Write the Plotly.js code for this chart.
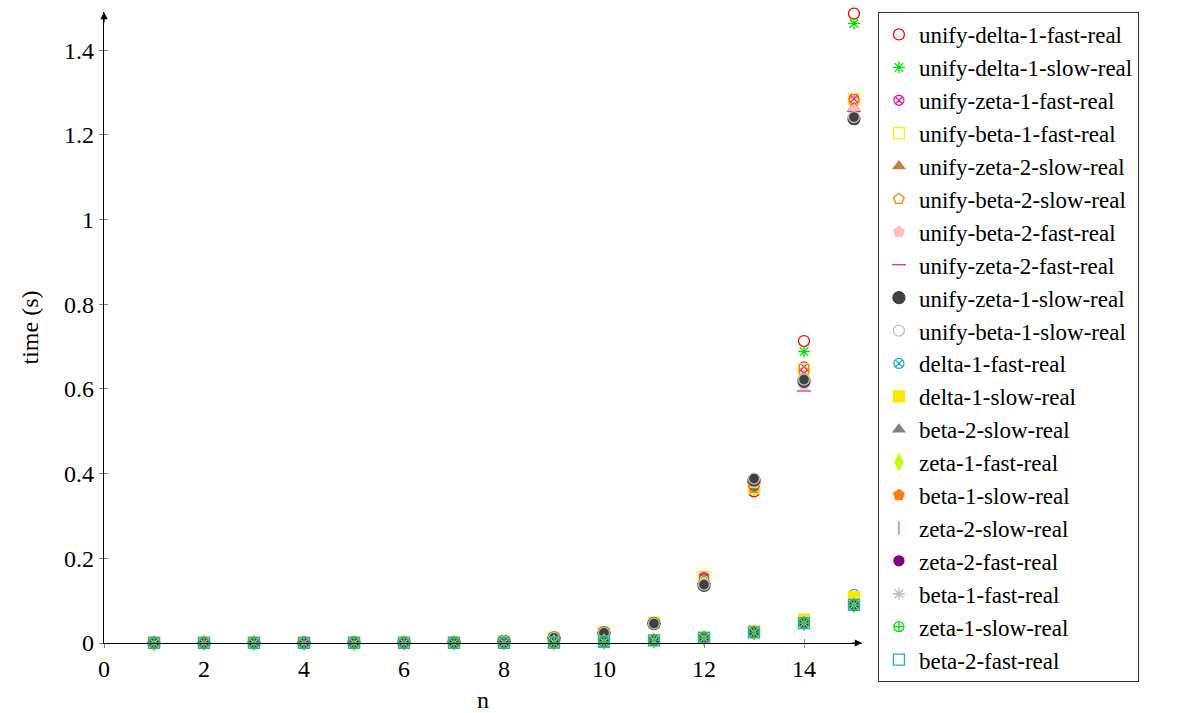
<!DOCTYPE html>
<html>
<head>
<meta charset="utf-8">
<script src="https://cdn.plot.ly/plotly-3.0.1.min.js"></script>
<style>
html, body { margin: 0; padding: 0; background: #fff; }
#chart { width: 1187px; height: 713px; }
</style>
</head>
<body>
<div id="chart"></div>
<script>
// ---- data ----
const nValues = [1, 2, 3, 4, 5, 6, 7, 8, 9, 10, 11, 12, 13, 14, 15];

const unifyDelta1Fast = [0.0002, 0.0003, 0.0004, 0.0005, 0.0007, 0.001, 0.0015, 0.004, 0.011, 0.023, 0.047, 0.150, 0.358, 0.713, 1.486];
const unifyDelta1Slow = [0.0002, 0.0003, 0.0004, 0.0005, 0.0007, 0.001, 0.0015, 0.004, 0.011, 0.023, 0.047, 0.148, 0.362, 0.688, 1.463];
const unifyZeta1Fast  = [0.0002, 0.0003, 0.0004, 0.0005, 0.0007, 0.001, 0.0015, 0.004, 0.011, 0.024, 0.047, 0.155, 0.372, 0.652, 1.285];
const unifyBeta1Fast  = [0.0002, 0.0003, 0.0004, 0.0005, 0.0007, 0.001, 0.0015, 0.004, 0.012, 0.025, 0.048, 0.156, 0.366, 0.646, 1.285];
const unifyZeta2Slow  = [0.0002, 0.0003, 0.0004, 0.0005, 0.0007, 0.001, 0.0015, 0.004, 0.011, 0.023, 0.046, 0.145, 0.375, 0.630, 1.265];
const unifyBeta2Slow  = [0.0002, 0.0003, 0.0004, 0.0005, 0.0007, 0.001, 0.0015, 0.004, 0.011, 0.023, 0.046, 0.140, 0.366, 0.640, 1.280];
const unifyBeta2Fast  = [0.0002, 0.0003, 0.0004, 0.0005, 0.0007, 0.001, 0.0015, 0.004, 0.011, 0.023, 0.046, 0.142, 0.378, 0.610, 1.258];
const unifyZeta2Fast  = [0.0002, 0.0003, 0.0004, 0.0005, 0.0007, 0.001, 0.0015, 0.004, 0.011, 0.023, 0.046, 0.140, 0.380, 0.595, 1.255];
const unifyZeta1Slow  = [0.0002, 0.0003, 0.0004, 0.0005, 0.0007, 0.001, 0.0015, 0.004, 0.012, 0.024, 0.046, 0.136, 0.385, 0.618, 1.238];
const unifyBeta1Slow  = [0.0002, 0.0003, 0.0004, 0.0005, 0.0007, 0.001, 0.0015, 0.004, 0.012, 0.024, 0.046, 0.138, 0.388, 0.622, 1.242];

const delta1Fast = [0.0001, 0.0001, 0.0001, 0.0001, 0.0002, 0.0002, 0.0003, 0.0005, 0.001, 0.003, 0.006, 0.012, 0.026, 0.050, 0.115];
const delta1Slow = [0.0001, 0.0001, 0.0001, 0.0001, 0.0002, 0.0002, 0.0003, 0.0005, 0.001, 0.003, 0.007, 0.013, 0.028, 0.056, 0.108];
const beta2Slow  = [0.0001, 0.0001, 0.0001, 0.0001, 0.0002, 0.0002, 0.0003, 0.0005, 0.001, 0.003, 0.006, 0.012, 0.025, 0.048, 0.092];
const zeta1Fast  = [0.0001, 0.0001, 0.0001, 0.0001, 0.0002, 0.0002, 0.0003, 0.0005, 0.001, 0.003, 0.006, 0.012, 0.025, 0.047, 0.090];
const beta1Slow  = [0.0001, 0.0001, 0.0001, 0.0001, 0.0002, 0.0002, 0.0003, 0.0005, 0.001, 0.003, 0.006, 0.012, 0.025, 0.047, 0.091];
const zeta2Slow  = [0.0001, 0.0001, 0.0001, 0.0001, 0.0002, 0.0002, 0.0003, 0.0005, 0.001, 0.003, 0.006, 0.012, 0.025, 0.047, 0.090];
const zeta2Fast  = [0.0001, 0.0001, 0.0001, 0.0001, 0.0002, 0.0002, 0.0003, 0.0005, 0.001, 0.003, 0.006, 0.012, 0.025, 0.047, 0.090];
const beta1Fast  = [0.0001, 0.0001, 0.0001, 0.0001, 0.0002, 0.0002, 0.0003, 0.0005, 0.001, 0.003, 0.006, 0.012, 0.025, 0.047, 0.090];
const zeta1Slow  = [0.0001, 0.0001, 0.0001, 0.0001, 0.0002, 0.0002, 0.0003, 0.0005, 0.001, 0.003, 0.006, 0.012, 0.025, 0.047, 0.090];
const beta2Fast  = [0.0001, 0.0001, 0.0001, 0.0001, 0.0002, 0.0002, 0.0003, 0.0005, 0.001, 0.003, 0.006, 0.012, 0.025, 0.047, 0.090];

const seriesNames = [
  'unify-delta-1-fast-real', 'unify-delta-1-slow-real', 'unify-zeta-1-fast-real',
  'unify-beta-1-fast-real', 'unify-zeta-2-slow-real', 'unify-beta-2-slow-real',
  'unify-beta-2-fast-real', 'unify-zeta-2-fast-real', 'unify-zeta-1-slow-real',
  'unify-beta-1-slow-real', 'delta-1-fast-real', 'delta-1-slow-real',
  'beta-2-slow-real', 'zeta-1-fast-real', 'beta-1-slow-real', 'zeta-2-slow-real',
  'zeta-2-fast-real', 'beta-1-fast-real', 'zeta-1-slow-real', 'beta-2-fast-real'
];
const seriesValues = [
  unifyDelta1Fast, unifyDelta1Slow, unifyZeta1Fast, unifyBeta1Fast, unifyZeta2Slow,
  unifyBeta2Slow, unifyBeta2Fast, unifyZeta2Fast, unifyZeta1Slow, unifyBeta1Slow,
  delta1Fast, delta1Slow, beta2Slow, zeta1Fast, beta1Slow, zeta2Slow,
  zeta2Fast, beta1Fast, zeta1Slow, beta2Fast
];
const xTickVals = [0, 2, 4, 6, 8, 10, 12, 14];
const xTickText = ['0', '2', '4', '6', '8', '10', '12', '14'];
const yTickVals = [0, 0.2, 0.4, 0.6, 0.8, 1, 1.2, 1.4];
const yTickText = ['0', '0.2', '0.4', '0.6', '0.8', '1', '1.2', '1.4'];

// ---- styles ----
const styles = [
  {symbol: 'circle-open', color: '#ff0000', size: 11},
  {symbol: 'asterisk-open', color: '#00e000', size: 10},
  {symbol: 'circle-x-open', color: '#e6199a', size: 10},
  {symbol: 'square-open', color: '#ffee00', size: 11},
  {symbol: 'triangle-up', color: '#bf8040', size: 10},
  {symbol: 'pentagon-open', color: '#ff8000', size: 11},
  {symbol: 'pentagon', color: '#ffbfbf', size: 11},
  {symbol: 'line-ew-open', color: '#e0306e', size: 10},
  {symbol: 'circle', color: '#404040', size: 12},
  {symbol: 'circle-open', color: '#bfbfbf', size: 11},
  {symbol: 'circle-x-open', color: '#1ea7e1', size: 10},
  {symbol: 'square', color: '#ffe800', size: 11},
  {symbol: 'triangle-up', color: '#808080', size: 10},
  {symbol: 'diamond-tall', color: '#bfff00', size: 11},
  {symbol: 'pentagon', color: '#ff8000', size: 11},
  {symbol: 'line-ns-open', color: '#d9668c', size: 10},
  {symbol: 'circle', color: '#800080', size: 10},
  {symbol: 'asterisk-open', color: '#bfbfbf', size: 10},
  {symbol: 'circle-cross-open', color: '#00e000', size: 10},
  {symbol: 'square-open', color: '#1ea7e1', size: 11}
];

const traces = seriesNames.map((name, i) => ({
  type: 'scatter',
  mode: 'markers',
  name: name,
  x: nValues,
  y: seriesValues[i],
  cliponaxis: false,
  marker: {
    symbol: styles[i].symbol,
    size: styles[i].size,
    color: styles[i].color,
    line: {color: styles[i].color, width: 1.3}
  }
}));

const FONT = 'Liberation Serif, DejaVu Serif, serif';

const layout = {
  width: 1187,
  height: 713,
  paper_bgcolor: '#fff',
  plot_bgcolor: '#fff',
  font: {family: FONT, size: 24, color: '#000'},
  margin: {l: 104, r: 325, t: 12, b: 70, pad: 0},
  showlegend: true,
  legend: {
    x: 1.021, xanchor: 'left',
    y: 1.0, yanchor: 'top',
    bordercolor: '#333', borderwidth: 1,
    bgcolor: '#fff',
    font: {family: FONT, size: 23, color: '#000'},
    itemwidth: 30,
    tracegroupgap: 0,
    maxheight: 700
  },
  xaxis: {
    range: [0, 15.16],
    tickvals: xTickVals,
    ticktext: xTickText,
    ticks: 'outside', ticklen: 4, tickcolor: '#888', tickwidth: 1,
    showline: true, linecolor: '#000', linewidth: 1.2,
    showgrid: false, zeroline: false,
    title: {text: 'n', font: {family: FONT, size: 24}, standoff: 10},
    tickfont: {family: FONT, size: 24}
  },
  yaxis: {
    range: [0, 1.49],
    tickvals: yTickVals,
    ticktext: yTickText,
    ticks: 'outside', ticklen: 4, tickcolor: '#888', tickwidth: 1,
    showline: true, linecolor: '#000', linewidth: 1.2,
    showgrid: false, zeroline: false,
    title: {text: 'time (s)', font: {family: FONT, size: 24}, standoff: 18},
    tickfont: {family: FONT, size: 24}
  },
  xaxis2: {
    overlaying: 'x', matches: 'x', anchor: 'y',
    tickvals: xTickVals,
    ticks: 'inside', ticklen: 4, tickcolor: '#888',
    showticklabels: false, showline: false, showgrid: false, zeroline: false
  },
  yaxis2: {
    overlaying: 'y', matches: 'y', anchor: 'x',
    tickvals: yTickVals,
    ticks: 'inside', ticklen: 4, tickcolor: '#888',
    showticklabels: false, showline: false, showgrid: false, zeroline: false
  },
  annotations: [
    {xref: 'paper', yref: 'paper', x: 0, y: 1, ax: 0, ay: 12, showarrow: true,
     arrowhead: 2, arrowsize: 1.2, arrowwidth: 1.2, arrowcolor: '#000', text: ''},
    {xref: 'paper', yref: 'paper', x: 1, y: 0, ax: -12, ay: 0, showarrow: true,
     arrowhead: 2, arrowsize: 1.2, arrowwidth: 1.2, arrowcolor: '#000', text: ''}
  ]
};

// invisible trace to activate the overlay axes (for crossing ticks)
traces.push({
  type: 'scatter', mode: 'markers', x: [nValues[0]], y: [0], xaxis: 'x2', yaxis: 'y2',
  marker: {opacity: 0}, showlegend: false, hoverinfo: 'skip'
});

Plotly.newPlot('chart', traces, layout, {displayModeBar: false, staticPlot: true});
</script>
</body>
</html>
